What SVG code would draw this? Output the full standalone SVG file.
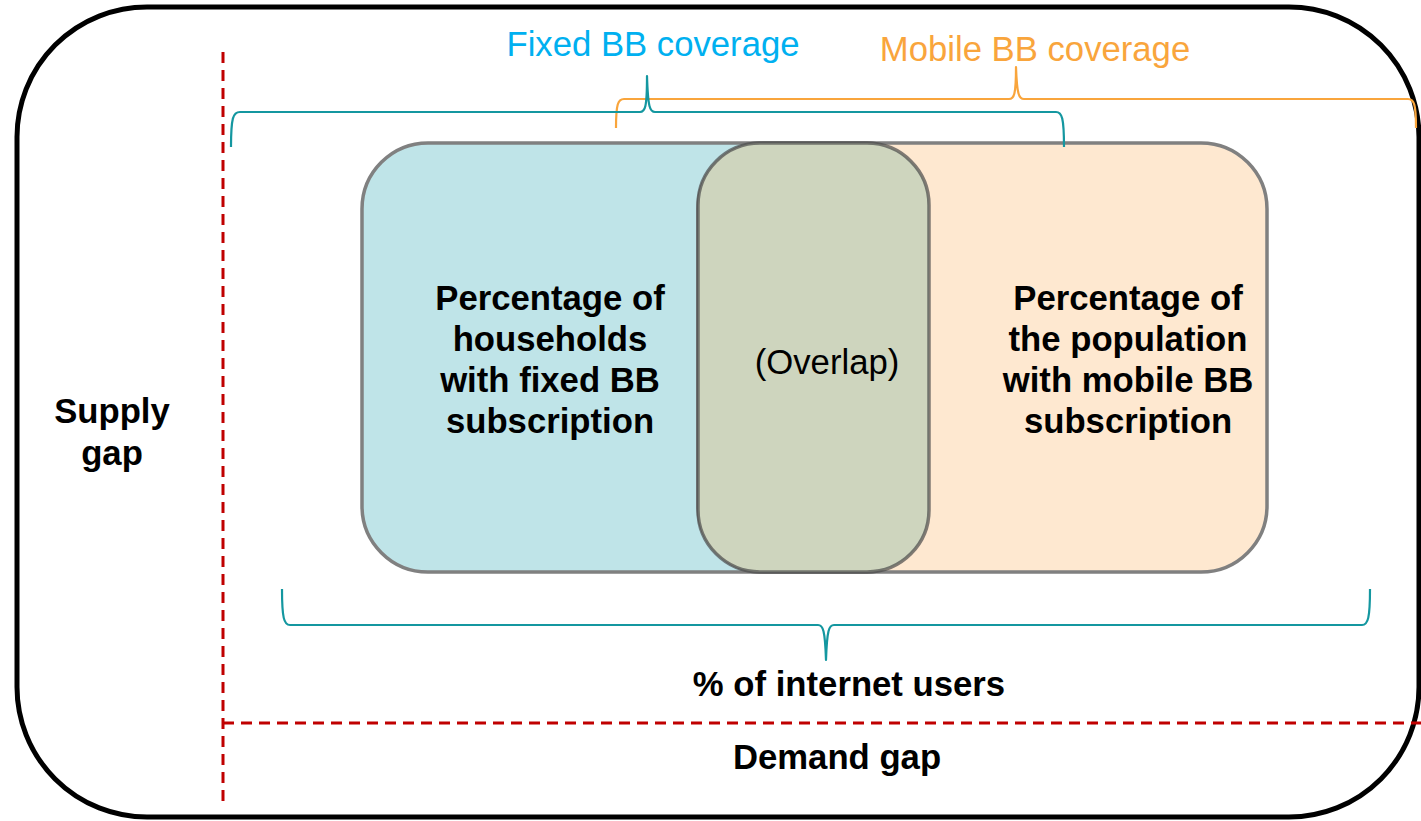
<svg xmlns="http://www.w3.org/2000/svg" width="1421" height="821" viewBox="0 0 1421 821">
<style>
.bold{font-family:"Liberation Sans",Arial,sans-serif;font-weight:bold;font-size:34.7px;fill:#000;text-anchor:middle}
.reg{font-family:"Liberation Sans",Arial,sans-serif;font-size:34.7px;text-anchor:middle}
.dash{stroke:#C00000;stroke-width:3;stroke-dasharray:11 7;fill:none}
.brace{fill:none;stroke-width:2.2;stroke-linejoin:round}
.box{stroke:#808080;stroke-width:3.5}
</style>
<rect width="1421" height="821" fill="#fff"/>
<g id="frame">
<rect x="17" y="7" width="1402" height="810" rx="130" ry="130" fill="none" stroke="#000" stroke-width="5"/>
</g>
<g id="gaps">
<line class="dash" x1="223" y1="52" x2="223" y2="806"/>
<line class="dash" x1="223" y1="723" x2="1421" y2="723"/>
</g>
<g id="fixed-box">
<rect class="box" x="362" y="143" width="568" height="429" rx="66" ry="66" fill="#BFE4E8"/>
</g>
<g id="mobile-box">
<rect class="box" x="698" y="143" width="569" height="429" rx="66" ry="66" fill="#FEE8D0"/>
</g>
<g id="overlap">
<rect x="698" y="143" width="231" height="429" rx="62" ry="62" fill="#CED5BE" stroke="#4a4a4a" stroke-opacity="0.7" stroke-width="3.5"/>
<text class="reg" x="827" y="374">(Overlap)</text>
</g>
<g id="fixed-text">
<text class="bold" x="550" y="310">Percentage of</text>
<text class="bold" x="550" y="351">households</text>
<text class="bold" x="550" y="392">with fixed BB</text>
<text class="bold" x="550" y="433">subscription</text>
</g>
<g id="mobile-text">
<text class="bold" x="1128" y="310">Percentage of</text>
<text class="bold" x="1128" y="351">the population</text>
<text class="bold" x="1128" y="392">with mobile BB</text>
<text class="bold" x="1128" y="433">subscription</text>
</g>
<g id="braces">
<path class="brace" stroke="#F9A53C" d="M616,128 C616,104 618,99 624,99 L1009,99 C1014,99 1016,95 1016,67 C1017,95 1019,99 1024,99 L1408,99 C1414,99 1416,104 1416,128"/>
<path class="brace" stroke="#1497A0" d="M231,147 C231,118 233,112 240,112 L640,112 C645,112 647,108 647,76 C648,108 650,112 655,112 L1056,112 C1062,112 1064,118 1064,147"/>
<path class="brace" stroke="#1497A0" d="M282,589 C282,618 284,625 290,625 L818,625 C823,625 825,630 826,660 C827,630 829,625 834,625 L1362,625 C1368,625 1370,618 1370,589"/>
</g>
<g id="labels">
<text class="reg" x="653" y="56" fill="#00B0F0">Fixed BB coverage</text>
<text class="reg" x="1035" y="61" fill="#F9A53C">Mobile BB coverage</text>
<text class="bold" x="112" y="423">Supply</text>
<text class="bold" x="112" y="465">gap</text>
<text class="bold" x="849" y="696">% of internet users</text>
<text class="bold" x="837" y="769">Demand gap</text>
</g>
</svg>
